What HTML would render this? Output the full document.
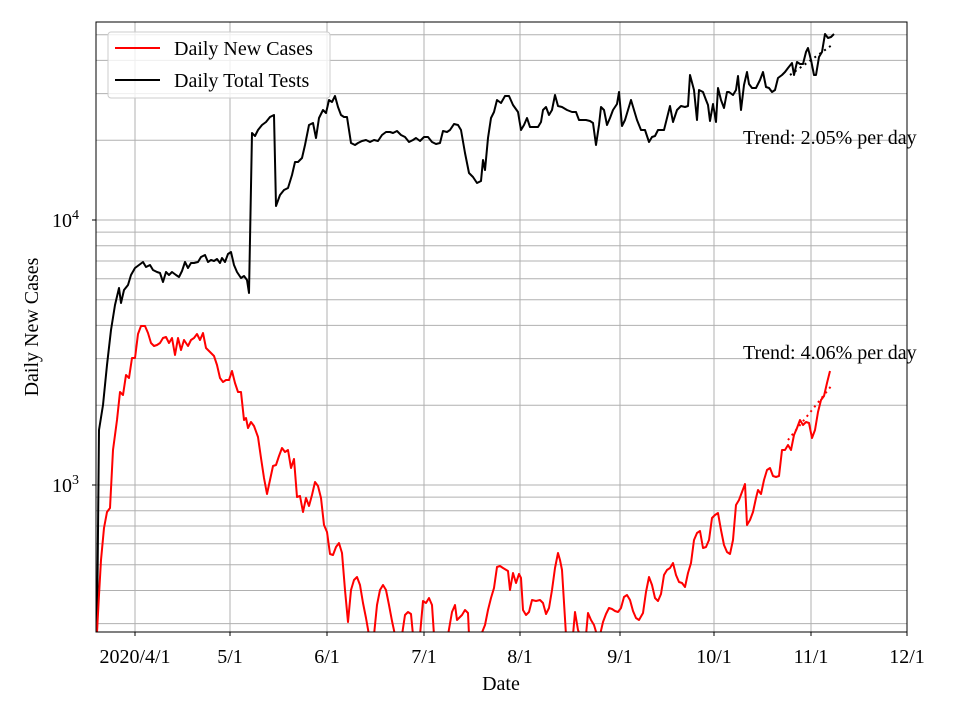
<!DOCTYPE html>
<html><head><meta charset="utf-8"><style>body{margin:0;background:#fff}svg{display:block}text{font-family:"Liberation Serif",serif;fill:#000}</style></head><body>
<svg width="960" height="720" viewBox="0 0 960 720">
<defs><clipPath id="c"><rect x="96" y="22" width="811" height="610"/></clipPath></defs>
<g stroke="#b0b0b0" stroke-width="1">
<line x1="135" y1="22" x2="135" y2="632"/><line x1="230" y1="22" x2="230" y2="632"/><line x1="327" y1="22" x2="327" y2="632"/><line x1="424" y1="22" x2="424" y2="632"/><line x1="520" y1="22" x2="520" y2="632"/><line x1="620" y1="22" x2="620" y2="632"/><line x1="714" y1="22" x2="714" y2="632"/><line x1="811" y1="22" x2="811" y2="632"/>
<line x1="96" x2="907" y1="220" y2="220"/><line x1="96" x2="907" y1="485" y2="485"/>
<line x1="96" x2="907" y1="623.6" y2="623.6"/><line x1="96" x2="907" y1="590.5" y2="590.5"/><line x1="96" x2="907" y1="564.8" y2="564.8"/><line x1="96" x2="907" y1="543.8" y2="543.8"/><line x1="96" x2="907" y1="526" y2="526"/><line x1="96" x2="907" y1="510.7" y2="510.7"/><line x1="96" x2="907" y1="497.1" y2="497.1"/>
<line x1="96" x2="907" y1="405.2" y2="405.2"/><line x1="96" x2="907" y1="358.6" y2="358.6"/><line x1="96" x2="907" y1="325.4" y2="325.4"/><line x1="96" x2="907" y1="299.8" y2="299.8"/><line x1="96" x2="907" y1="278.8" y2="278.8"/><line x1="96" x2="907" y1="261" y2="261"/><line x1="96" x2="907" y1="245.7" y2="245.7"/><line x1="96" x2="907" y1="232.1" y2="232.1"/>
<line x1="96" x2="907" y1="140.2" y2="140.2"/><line x1="96" x2="907" y1="93.6" y2="93.6"/><line x1="96" x2="907" y1="60.4" y2="60.4"/><line x1="96" x2="907" y1="34.8" y2="34.8"/>
</g>
<g clip-path="url(#c)" fill="none" stroke-width="2" stroke-linejoin="round">
<polyline stroke="#000" points="97,632 99,430 103,405 107,365 111,330 115,305 119,288 121,303 124,290 128,285 131,275 135,268 139,265 143,262 146,267 150,265 153,270 157,272 160,273 163,282 166,272 169,275 172,272 176,275 179,277 182,271 185,262 188,268 191,263 194,263 198,262 201,257 205,255 208,262 211,260 214,261 217,259 220,263 222,258 225,262 228,254 231,252 234,265 237,272 241,278 244,276 247,280 249,293 252,133 255,136 258,130 262,125 266,122 270,117 274,115 276,206 280,195 284,190 288,188 292,175 295,162 298,162 302,158 305,145 309,125 313,123 316,138 319,118 323,110 326,113 329,100 332,102 335,96 338,107 341,115 344,117 347,117 351,143 355,145 358,143 362,141 366,140 370,142 374,140 378,141 382,135 386,132 390,132 393,133 397,131 401,135 405,137 409,142 413,140 416,138 420,141 424,137 428,137 432,142 436,144 440,143 443,131 447,132 450,130 454,124 458,125 461,130 465,153 469,173 473,177 477,183 481,181 483,160 485,170 488,138 491,118 494,112 497,100 501,103 505,96 509,96 513,105 518,112 521,130 524,125 527,118 530,127 534,127 538,127 541,122 543,110 546,107 549,115 552,110 555,95 558,106 562,107 567,110 572,112 576,112 579,120 582,120 586,120 590,121 593,123 596,145 599,125 601,107 604,110 607,125 610,118 613,110 617,104 619,92 622,126 625,120 628,110 631,100 634,110 637,120 641,130 645,130 649,142 652,137 655,136 658,130 662,130 664,130 667,118 670,106 673,122 677,110 681,106 685,107 688,106 690,75 694,90 697,120 699,90 703,92 706,100 708,105 710,121 713,104 716,122 718,88 721,100 724,108 727,92 729,92 733,95 736,90 738,76 741,110 744,85 747,72 749,84 752,88 756,88 760,80 763,72 766,87 769,88 772,92 775,90 778,78 782,75 785,72 788,68 792,63 794,75 797,62 800,64 803,64 806,52 808,48 811,60 814,75 816,75 819,57 822,52 825,34 828,38 831,37 834,34"/>
<polyline stroke="#f00" points="97,632 99,595 101,560 104,528 107,512 110,508 113,450 117,420 120,392 123,395 126,375 129,378 132,358 135,358 138,334 141,326 145,326 148,333 151,343 154,346 157,345 160,343 163,338 166,337 169,343 172,338 175,355 178,338 181,350 184,340 188,346 191,340 194,338 197,334 200,340 203,333 206,348 210,352 214,356 217,365 220,378 223,382 226,380 229,380 232,371 235,383 238,392 241,392 244,420 246,418 248,428 251,422 254,426 258,437 261,458 264,478 267,494 270,480 273,466 276,465 279,456 282,448 285,452 288,450 291,468 294,459 297,497 300,496 303,512 306,498 309,506 312,495 315,482 318,486 321,498 324,525 327,532 330,554 333,555 336,547 339,543 342,553 345,590 348,622 351,590 354,580 357,577 360,585 363,603 366,618 369,635 374,635 377,605 380,590 383,585 386,590 389,605 392,621 395,635 402,635 405,615 408,612 411,614 413,635 420,635 423,601 426,603 429,598 432,605 434,635 448,635 452,612 455,605 457,620 459,618 462,615 465,610 468,613 469,635 481,635 485,625 488,610 491,598 494,588 497,567 500,566 503,568 508,571 510,590 513,573 516,583 519,574 521,578 523,610 526,615 529,612 532,600 536,601 540,600 543,603 546,614 549,608 552,590 555,568 558,553 560,560 562,570 566,635 573,635 575,612 578,630 580,635 586,635 588,613 591,620 594,625 597,635 600,635 603,622 606,614 609,608 612,609 615,611 618,612 621,608 624,597 627,595 630,600 633,611 636,618 639,620 643,613 646,592 649,577 652,585 655,598 658,601 661,594 664,575 667,570 670,568 673,563 676,575 679,582 682,583 685,587 688,573 691,563 694,540 697,533 700,531 703,548 706,547 709,540 712,518 715,515 718,513 721,530 724,545 727,552 730,554 733,540 736,505 739,500 742,492 745,484 747,525 750,520 753,512 756,498 758,490 761,494 764,480 767,470 770,468 773,476 776,477 779,476 782,450 785,450 788,445 791,450 794,435 797,428 800,420 803,425 806,422 809,423 812,438 815,430 818,412 821,400 824,396 827,383 830,371"/>
<line x1="788" y1="440" x2="832" y2="385" stroke="#f00" stroke-dasharray="2,4"/>
<line x1="790" y1="75" x2="832" y2="45" stroke="#000" stroke-dasharray="2,4"/>
</g>
<rect x="96" y="22" width="811" height="610" fill="none" stroke="#000" stroke-width="1"/>
<g stroke="#000"><line x1="135" y1="632" x2="135" y2="636"/><line x1="230" y1="632" x2="230" y2="636"/><line x1="327" y1="632" x2="327" y2="636"/><line x1="424" y1="632" x2="424" y2="636"/><line x1="520" y1="632" x2="520" y2="636"/><line x1="620" y1="632" x2="620" y2="636"/><line x1="714" y1="632" x2="714" y2="636"/><line x1="811" y1="632" x2="811" y2="636"/><line x1="907" y1="632" x2="907" y2="636"/><line x1="92" y1="220" x2="96" y2="220"/><line x1="92" y1="485" x2="96" y2="485"/></g>
<g font-size="20" text-anchor="middle">
<text x="135" y="663">2020/4/1</text><text x="230" y="663">5/1</text><text x="327" y="663">6/1</text><text x="424" y="663">7/1</text><text x="520" y="663">8/1</text><text x="620" y="663">9/1</text><text x="714" y="663">10/1</text><text x="811" y="663">11/1</text><text x="907" y="663">12/1</text>
<text x="501" y="690">Date</text>
<text transform="translate(38,327) rotate(-90)">Daily New Cases</text>
</g>
<text x="52" y="227" font-size="20">10<tspan font-size="14" dy="-8">4</tspan></text>
<text x="52" y="492" font-size="20">10<tspan font-size="14" dy="-8">3</tspan></text>
<text x="743" y="144" font-size="20">Trend: 2.05% per day</text>
<text x="743" y="359" font-size="20">Trend: 4.06% per day</text>
<rect x="108" y="32" width="222" height="66" rx="3" fill="#fff" fill-opacity="0.8" stroke="#ccc"/>
<line x1="115" y1="48" x2="160" y2="48" stroke="#f00" stroke-width="2"/>
<line x1="115" y1="80" x2="160" y2="80" stroke="#000" stroke-width="2"/>
<text x="174" y="55" font-size="20">Daily New Cases</text>
<text x="174" y="87" font-size="20">Daily Total Tests</text>
</svg>
</body></html>
